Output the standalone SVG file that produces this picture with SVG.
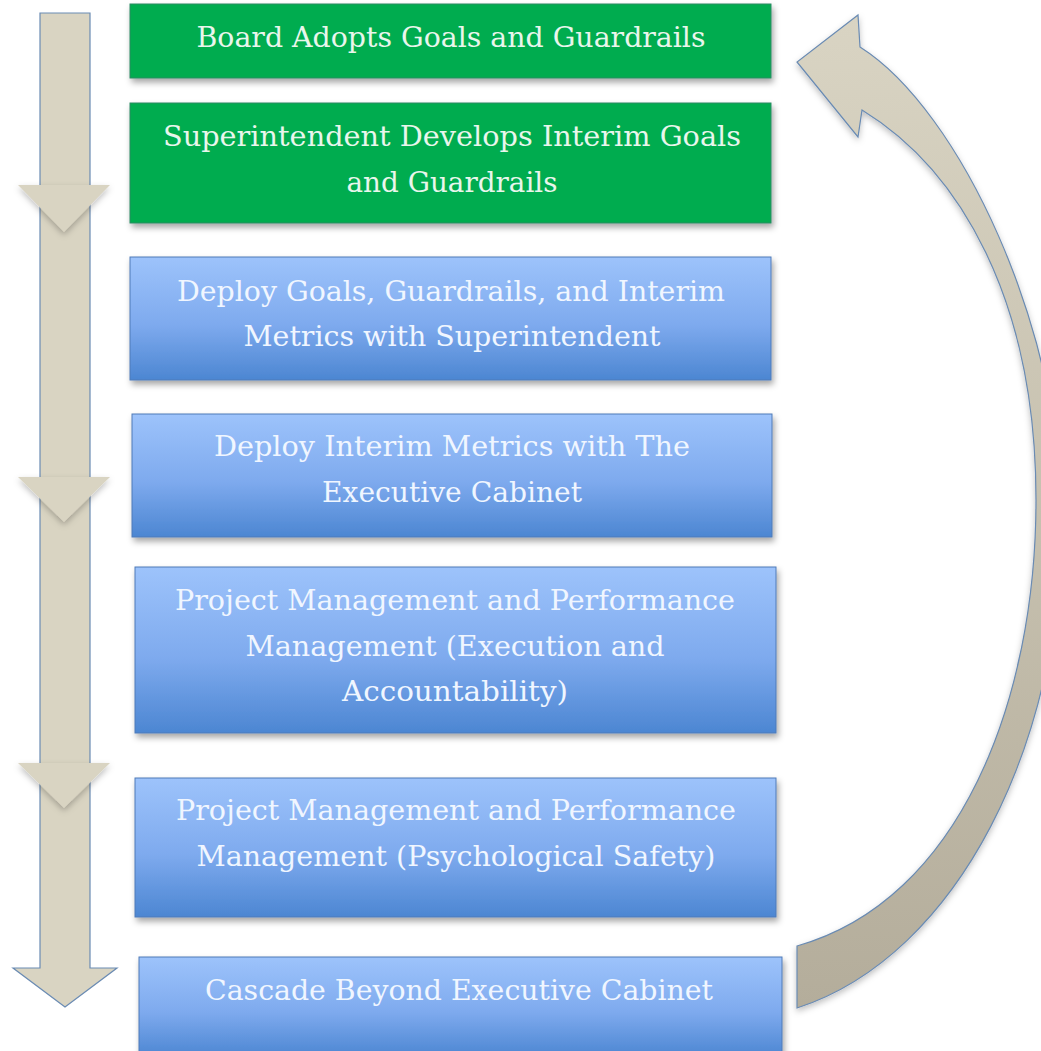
<svg xmlns="http://www.w3.org/2000/svg" width="1041" height="1051" viewBox="0 0 1041 1051">
  <defs>
    <linearGradient id="blueFill" x1="0" y1="0" x2="0" y2="1">
      <stop offset="0" stop-color="#9dc3fb"/>
      <stop offset="0.55" stop-color="#7eaaee"/>
      <stop offset="1" stop-color="#4c86d2"/>
    </linearGradient>
    <linearGradient id="loopFill" x1="0" y1="0" x2="0" y2="1">
      <stop offset="0" stop-color="#d9d4c3"/>
      <stop offset="1" stop-color="#b4ad9b"/>
    </linearGradient>
    <filter id="shadow" x="-10%" y="-20%" width="125%" height="150%">
      <feDropShadow dx="2" dy="4" stdDeviation="3" flood-color="#000" flood-opacity="0.35"/>
    </filter>
    <filter id="softShadow" x="-20%" y="-20%" width="140%" height="160%">
      <feDropShadow dx="0" dy="3" stdDeviation="3" flood-color="#000" flood-opacity="0.25"/>
    </filter>
  </defs>
  <style>
    .green { fill: #00ac4f; stroke: #2f8a63; stroke-width: 1; filter: url(#shadow); }
    .blue { fill: url(#blueFill); stroke: #4f7bb8; stroke-width: 1; filter: url(#shadow); }
    .label { font-family: "DejaVu Serif", "Liberation Serif", serif; font-size: 27px; text-anchor: middle; }
    .green-text { fill: #e9f6ec; }
    .blue-text { fill: #f0f6ff; }
    .flow { fill: #d9d4c2; }
    .edge { stroke: #6a8bb3; stroke-width: 1.2; }
  </style>

  <!-- Connectors: the downward flow arrow on the left and the return loop on the right -->
  <g id="connectors">
    <g id="flow-down">
      <path class="flow edge" d="M40,13 L90,13 L90,968 L117,968 L65,1007 L13,968 L40,968 Z"/>
      <polygon class="flow" points="18,185 110,185 64,232" filter="url(#softShadow)"/>
      <polygon class="flow" points="18,477 110,477 64,522" filter="url(#softShadow)"/>
      <polygon class="flow" points="18,763 110,763 64,808" filter="url(#softShadow)"/>
    </g>
    <path id="loop-back" fill="url(#loopFill)" class="edge" filter="url(#softShadow)"
      d="M797,1008 L797,946 C960,900 1036,700 1036,500 C1036,300 960,170 862,110 L858,137 L797,62 L858,15 L860,47 C960,110 1062,330 1062,520 C1062,740 960,955 797,1008 Z"/>
  </g>

  <g id="node-board-adopts">
    <rect class="green" x="130" y="4" width="641" height="74"/>
    <text class="label green-text" x="451" y="47" textLength="509" lengthAdjust="spacingAndGlyphs">Board Adopts Goals and Guardrails</text>
  </g>

  <g id="node-superintendent-develops">
    <rect class="green" x="130" y="103" width="641" height="120"/>
    <text class="label green-text" x="452" y="146" textLength="578" lengthAdjust="spacingAndGlyphs">Superintendent Develops Interim Goals</text>
    <text class="label green-text" x="452" y="192" textLength="211" lengthAdjust="spacingAndGlyphs">and Guardrails</text>
  </g>

  <g id="node-deploy-goals">
    <rect class="blue" x="130" y="257" width="641" height="123"/>
    <text class="label blue-text" x="451" y="301" textLength="548" lengthAdjust="spacingAndGlyphs">Deploy Goals, Guardrails, and Interim</text>
    <text class="label blue-text" x="452" y="346" textLength="417" lengthAdjust="spacingAndGlyphs">Metrics with Superintendent</text>
  </g>

  <g id="node-deploy-metrics">
    <rect class="blue" x="132" y="414" width="640" height="123"/>
    <text class="label blue-text" x="452" y="456" textLength="476" lengthAdjust="spacingAndGlyphs">Deploy Interim Metrics with The</text>
    <text class="label blue-text" x="452" y="502" textLength="260" lengthAdjust="spacingAndGlyphs">Executive Cabinet</text>
  </g>

  <g id="node-execution">
    <rect class="blue" x="135" y="567" width="641" height="166"/>
    <text class="label blue-text" x="455" y="610" textLength="560" lengthAdjust="spacingAndGlyphs">Project Management and Performance</text>
    <text class="label blue-text" x="455" y="656" textLength="419" lengthAdjust="spacingAndGlyphs">Management (Execution and</text>
    <text class="label blue-text" x="455" y="701" textLength="226" lengthAdjust="spacingAndGlyphs">Accountability)</text>
  </g>

  <g id="node-psych-safety">
    <rect class="blue" x="135" y="778" width="641" height="139"/>
    <text class="label blue-text" x="456" y="820" textLength="560" lengthAdjust="spacingAndGlyphs">Project Management and Performance</text>
    <text class="label blue-text" x="456" y="866" textLength="519" lengthAdjust="spacingAndGlyphs">Management (Psychological Safety)</text>
  </g>

  <g id="node-cascade">
    <rect class="blue" x="139" y="957" width="643" height="100"/>
    <text class="label blue-text" x="459" y="1000" textLength="508" lengthAdjust="spacingAndGlyphs">Cascade Beyond Executive Cabinet</text>
  </g>
</svg>
